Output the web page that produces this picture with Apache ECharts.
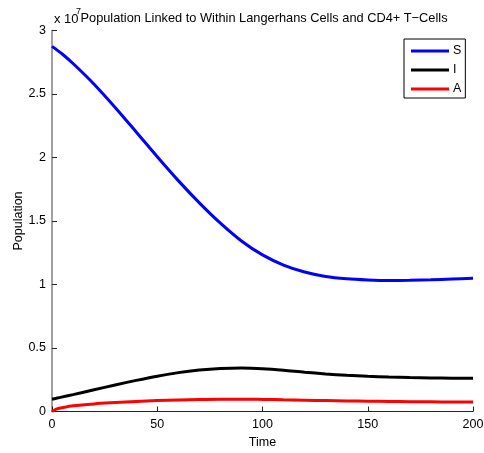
<!DOCTYPE html>
<html>
<head>
<meta charset="utf-8">
<script src="https://cdn.jsdelivr.net/npm/echarts@6/dist/echarts.min.js"></script>
<style>html,body{margin:0;padding:0;background:#fff;}#c{width:484px;height:453px;}</style>
</head>
<body>
<div id="c"></div>
<script>
var time = [0, 2, 5, 10, 20, 30, 40, 50, 60, 70, 80, 90, 100, 110, 120, 130, 140, 150, 160, 170, 180, 190, 200];
var S = [2.875, 2.851, 2.813, 2.74, 2.577, 2.394, 2.201, 2.006, 1.818, 1.643, 1.483, 1.343, 1.233, 1.153, 1.098, 1.063, 1.045, 1.036, 1.032, 1.033, 1.037, 1.043, 1.049];
var I = [0.097, 0.104, 0.115, 0.133, 0.171, 0.209, 0.245, 0.278, 0.306, 0.326, 0.338, 0.342, 0.337, 0.325, 0.309, 0.296, 0.285, 0.277, 0.271, 0.267, 0.264, 0.262, 0.261];
var A = [0.0, 0.018, 0.03, 0.045, 0.06, 0.07, 0.079, 0.086, 0.091, 0.095, 0.097, 0.097, 0.095, 0.092, 0.089, 0.086, 0.083, 0.081, 0.079, 0.077, 0.076, 0.075, 0.074];
var seriesNames = ['S', 'I', 'A'];
var yTicks = [0, 0.5, 1, 1.5, 2, 2.5, 3];
var xTicks = [0, 50, 100, 150, 200];
var titleText = 'Population Linked to Within Langerhans Cells and CD4+ T\u2212Cells';

function pairs(v) { return time.map(function (t, i) { return [t, v[i]]; }); }
var font = 'Liberation Sans, Arial, Helvetica, sans-serif';
var chart = echarts.init(document.getElementById('c'), null, { renderer: 'canvas' });
chart.setOption({
  animation: false,
  backgroundColor: '#fff',
  textStyle: { fontFamily: font },
  title: {
    text: titleText,
    left: 259, top: 7,
    textAlign: 'center',
    textStyle: { fontSize: 12.8, fontWeight: 'normal', color: '#000', fontFamily: font }
  },
  graphic: [{
    type: 'text', left: 54, top: 13, z: -1,
    style: { text: 'x 10', font: '13px ' + font, fill: '#000' }
  }, {
    type: 'text', left: 76, top: 7, z: -1,
    style: { text: '7', font: '9px ' + font, fill: '#000' }
  }],
  legend: {
    data: seriesNames,
    orient: 'vertical',
    left: 404, top: 39,
    padding: [5, 4, 2, 7],
    backgroundColor: '#fff',
    borderColor: '#000', borderWidth: 1,
    itemWidth: 38, itemHeight: 3, itemGap: 5,
    icon: 'rect',
    textStyle: { fontSize: 12.5, color: '#000', lineHeight: 14, padding: [0, 0, 0, -1], fontFamily: font }
  },
  grid: { left: 52, right: 11, top: 30.5, bottom: 41.5, containLabel: false, outerBoundsMode: 'none' },
  xAxis: {
    type: 'value', min: 0, max: 200, interval: 50,
    name: 'Time', nameLocation: 'middle', nameGap: 25, nameMoveOverlap: false,
    nameTextStyle: { fontSize: 12.5, color: '#000', fontFamily: font },
    axisLine: { lineStyle: { color: '#222', width: 1 } },
    axisTick: { inside: true, length: 5, lineStyle: { color: '#222' } },
    axisLabel: { fontSize: 12.5, color: '#000', margin: 7, fontFamily: font, hideOverlap: false,
      formatter: function (v) { return xTicks.indexOf(v) >= 0 ? String(v) : ''; } },
    splitLine: { show: false }
  },
  yAxis: {
    type: 'value', min: 0, max: 3, interval: 0.5,
    name: 'Population', nameLocation: 'middle', nameGap: 27, nameRotate: 90, nameMoveOverlap: false,
    nameTextStyle: { fontSize: 12.5, color: '#000', fontFamily: font },
    axisLine: { show: true, lineStyle: { color: '#808080', width: 1.5 } },
    axisTick: { show: true, inside: true, length: 5, lineStyle: { color: '#222' } },
    axisLabel: { fontSize: 12.5, color: '#000', margin: 6, fontFamily: font,
      formatter: function (v) { return yTicks.indexOf(v) >= 0 ? String(v) : ''; } },
    splitLine: { show: false }
  },
  series: [
    { name: 'S', type: 'line', data: pairs(S), smooth: 0.3, showSymbol: false, color: '#0000ff', lineStyle: { width: 3, color: '#0000ff' } },
    { name: 'I', type: 'line', data: pairs(I), smooth: 0.3, showSymbol: false, color: '#000000', lineStyle: { width: 3, color: '#000000' } },
    { name: 'A', type: 'line', data: pairs(A), smooth: 0.3, showSymbol: false, color: '#ff0000', lineStyle: { width: 3, color: '#ff0000' } }
  ]
});
</script>
</body>
</html>
